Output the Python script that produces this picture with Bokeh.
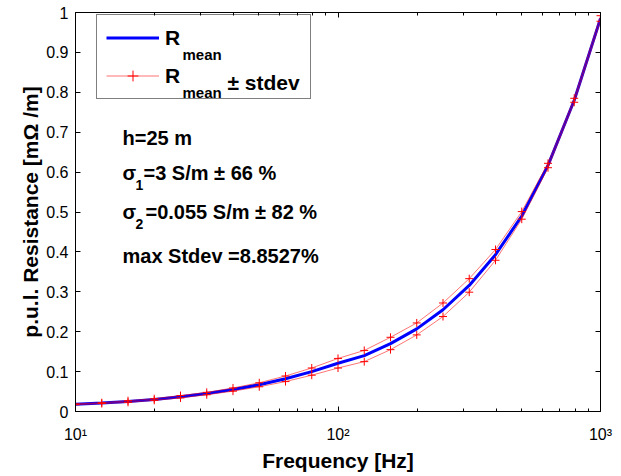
from bokeh.plotting import figure
from bokeh.models import (LogAxis, LinearAxis, FixedTicker, CustomJSTickFormatter, Label,
                          Legend, LegendItem, ColumnDataSource, Range1d)
from bokeh.embed import file_html
from bokeh.resources import INLINE

# ---- data ----
freq_hz = [10, 12.59, 15.85, 19.95, 25.12, 31.62, 39.81, 50.12, 63.10, 79.43, 100,
           125.9, 158.5, 199.5, 251.2, 316.2, 398.1, 501.2, 631.0, 794.3, 1000]
r_mean = [0.018, 0.021, 0.025, 0.030, 0.037, 0.045, 0.055, 0.067, 0.082, 0.100, 0.121,
          0.140, 0.170, 0.207, 0.255, 0.316, 0.393, 0.490, 0.617, 0.780, 0.985]
r_upper = [0.019, 0.022, 0.027, 0.032, 0.040, 0.048, 0.059, 0.072, 0.089, 0.109, 0.133,
           0.153, 0.186, 0.222, 0.272, 0.333, 0.406, 0.501, 0.622, 0.785, 0.992]
r_lower = [0.017, 0.020, 0.023, 0.028, 0.034, 0.042, 0.051, 0.062, 0.075, 0.091, 0.109,
           0.125, 0.155, 0.192, 0.238, 0.299, 0.379, 0.482, 0.611, 0.775, 0.978]

x_major_ticks = [10, 100, 1000]
x_minor_ticks = [20, 30, 40, 50, 60, 70, 80, 90, 200, 300, 400, 500, 600, 700, 800, 900]
y_ticks = [0, 0.1, 0.2, 0.3, 0.4, 0.5, 0.6, 0.7, 0.8, 0.9, 1.0]

FONT = "Liberation Sans"

# frame geometry (screen px) used for placing annotations
FL, FW, FB, FH = 75, 525, 413, 401


def dx(px):
    return 10 ** (1 + 2 * (px - FL) / FW)


def dy(py):
    return (FB - py) / FH


src = ColumnDataSource(dict(f=freq_hz, m=r_mean, u=r_upper, l=r_lower))

p = figure(width=620, height=474, x_axis_type="log",
           x_range=Range1d(10, 1000), y_range=Range1d(0, 1),
           output_backend="svg", toolbar_location=None,
           min_border_left=75, min_border_right=20, min_border_top=12, min_border_bottom=61)
p.xgrid.visible = False
p.ygrid.visible = False
p.outline_line_color = "black"
p.outline_line_width = 1
p.background_fill_color = "white"
p.border_fill_color = "white"

blue = p.line("f", "m", source=src, line_color="#0000FF", line_width=3)
red_u = p.line("f", "u", source=src, line_color="#FF0000", line_width=1, line_alpha=0.55)
red_l = p.line("f", "l", source=src, line_color="#FF0000", line_width=1, line_alpha=0.55)
mk_u = p.scatter("f", "u", source=src, marker="cross", size=8, line_color="#FF0000", line_width=1)
mk_l = p.scatter("f", "l", source=src, marker="cross", size=8, line_color="#FF0000", line_width=1)

xt = FixedTicker(ticks=x_major_ticks, minor_ticks=x_minor_ticks)
yt = FixedTicker(ticks=y_ticks, minor_ticks=[])

xfmt = CustomJSTickFormatter(code="""
const e = Math.round(Math.log10(tick));
const sup = {1: '\u00b9', 2: '\u00b2', 3: '\u00b3'};
return '10' + (sup[e] || e);
""")
yfmt = CustomJSTickFormatter(code="return (Math.round(tick*10)/10).toString();")
empty = CustomJSTickFormatter(code="return '';")


def style(ax):
    ax.axis_line_color = "black"
    ax.axis_line_width = 1
    ax.major_tick_line_color = "black"
    ax.minor_tick_line_color = "black"
    ax.major_tick_in = 5
    ax.major_tick_out = 0
    ax.minor_tick_in = 3
    ax.minor_tick_out = 0
    ax.major_label_text_font = FONT
    ax.major_label_text_font_size = "16px"
    ax.major_label_text_color = "black"
    ax.axis_label_text_font = FONT
    ax.axis_label_text_font_style = "bold"
    ax.axis_label_text_font_size = "21px"
    ax.axis_label_text_color = "black"


xa = p.xaxis[0]
style(xa)
xa.ticker = xt
xa.formatter = xfmt
xa.major_label_standoff = 14
xa.axis_label = "Frequency [Hz]"
xa.axis_label_standoff = 3

ya = p.yaxis[0]
style(ya)
ya.ticker = yt
ya.formatter = yfmt
ya.major_label_standoff = 7
ya.axis_label = "p.u.l. Resistance [m\u03a9 /m]"
ya.axis_label_standoff = 1

top = LogAxis(ticker=xt, formatter=empty)
style(top)
top.major_label_text_font_size = "0px"
top.major_label_standoff = 0
p.add_layout(top, "above")

right = LinearAxis(ticker=yt, formatter=empty)
style(right)
right.major_label_text_font_size = "0px"
right.major_label_standoff = 0
p.add_layout(right, "right")

legend = Legend(items=[LegendItem(label="R", renderers=[blue]),
                       LegendItem(label="R", renderers=[red_u, mk_u])],
                location=(21, 312), orientation="vertical",
                border_line_color="black", border_line_width=1,
                background_fill_alpha=0.0,
                padding=9, spacing=11, margin=0,
                glyph_width=53, glyph_height=27, label_height=27, label_width=136,
                label_standoff=6, label_text_font=FONT, label_text_font_style="bold",
                label_text_font_size="21px", label_text_color="black")
p.add_layout(legend)


def lab(px, py, text, size, baseline="alphabetic"):
    p.add_layout(Label(x=dx(px), y=dy(py), text=text, text_font=FONT, text_font_style="bold",
                       text_font_size=size, text_color="black", text_align="left",
                       text_baseline=baseline))


# legend subscripts / suffix
lab(182, 54, "mean", "15px")
lab(182, 92, "mean", "15px")
lab(227, 82, "\u00b1 stdev", "21px")

# annotations
lab(122, 138, "h=25 m", "20px")
lab(122, 173, "\u03c3", "20px")
lab(135, 185, "1", "14px")
lab(143, 173, "=3 S/m \u00b1 66 %", "20px")
lab(122, 213, "\u03c3", "20px")
lab(135, 225, "2", "14px")
lab(145, 213, "=0.055 S/m \u00b1 82 %", "20px")
lab(122, 257, "max Stdev =8.8527%", "20px")

open("out.html", "w").write(file_html(p, INLINE))
